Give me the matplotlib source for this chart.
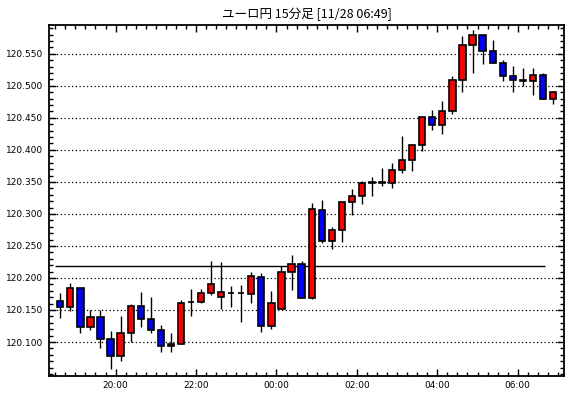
import numpy as np
import matplotlib
matplotlib.use("Agg")
from matplotlib import pyplot as plt
from matplotlib.ticker import MultipleLocator, FixedLocator

# EUR/JPY 15-minute candles, 18:30 .. 06:45
opens = [120.164, 120.154, 120.185, 120.123, 120.139, 120.104, 120.078, 120.114, 120.156, 120.136,
         120.119, 120.094, 120.097, 120.162, 120.163, 120.177, 120.170, 120.177, 120.176, 120.175,
         120.202, 120.125, 120.152, 120.209, 120.222, 120.169, 120.306, 120.258, 120.275, 120.319,
         120.328, 120.349, 120.349, 120.348, 120.369, 120.384, 120.408, 120.451, 120.439, 120.460,
         120.509, 120.563, 120.580, 120.555, 120.536, 120.516, 120.508, 120.507, 120.517, 120.480]
highs = [120.177, 120.192, 120.185, 120.150, 120.150, 120.117, 120.141, 120.160, 120.178, 120.171,
         120.126, 120.114, 120.166, 120.183, 120.183, 120.227, 120.225, 120.188, 120.189, 120.210,
         120.207, 120.180, 120.218, 120.236, 120.227, 120.317, 120.322, 120.280, 120.319, 120.339,
         120.352, 120.358, 120.372, 120.380, 120.422, 120.409, 120.452, 120.463, 120.477, 120.516,
         120.578, 120.587, 120.580, 120.571, 120.540, 120.531, 120.528, 120.528, 120.520, 120.491]
lows = [120.138, 120.149, 120.114, 120.118, 120.090, 120.058, 120.071, 120.100, 120.123, 120.114,
        120.085, 120.085, 120.097, 120.140, 120.161, 120.173, 120.152, 120.155, 120.132, 120.161,
        120.116, 120.120, 120.152, 120.182, 120.169, 120.167, 120.254, 120.245, 120.256, 120.298,
        120.315, 120.328, 120.344, 120.340, 120.364, 120.367, 120.398, 120.431, 120.425, 120.456,
        120.490, 120.520, 120.534, 120.536, 120.508, 120.491, 120.500, 120.485, 120.480, 120.472]
closes = [120.154, 120.185, 120.123, 120.139, 120.104, 120.078, 120.114, 120.156, 120.136, 120.119,
          120.094, 120.097, 120.161, 120.162, 120.177, 120.191, 120.178, 120.177, 120.176, 120.203,
          120.125, 120.161, 120.209, 120.222, 120.169, 120.308, 120.258, 120.275, 120.319, 120.328,
          120.348, 120.350, 120.350, 120.369, 120.384, 120.408, 120.452, 120.439, 120.460, 120.509,
          120.563, 120.580, 120.555, 120.536, 120.515, 120.509, 120.509, 120.517, 120.480, 120.491]
ref_level = 120.219
time_labels = ["20:00", "22:00", "00:00", "02:00", "04:00", "06:00"]
title = "ユーロ円 15分足 [11/28 06:49]"


def main():
    o = np.array(opens)
    h = np.array(highs)
    l = np.array(lows)
    c = np.array(closes)
    x = np.arange(len(o))
    up = c >= o
    colors = np.where(up, "#ff0000", "#0000ff")

    fig = plt.figure(figsize=(5.7, 3.98), dpi=100)
    ax = fig.add_axes([0.086, 0.0565, 0.9035, 0.8807])

    ax.vlines(x, l, h, color="black", linewidth=1.0, zorder=2)
    ax.bar(x, c - o, bottom=o, width=0.62, color=colors, edgecolor="black",
           linewidth=1.2, zorder=3)
    ax.hlines(ref_level, -0.55, 48.2, color="black", linewidth=1.0, zorder=1)

    ax.set_xlim(-1.12, 50.1)
    ax.set_ylim(120.0477, 120.595)

    ax.yaxis.set_major_locator(FixedLocator(np.arange(120.100, 120.5501, 0.05)))
    ax.yaxis.set_minor_locator(MultipleLocator(0.01))
    ax.yaxis.set_major_formatter(matplotlib.ticker.FormatStrFormatter("%.3f"))
    ax.set_xticks([5.5 + 8 * i for i in range(len(time_labels))])
    ax.set_xticklabels(time_labels)
    ax.xaxis.set_minor_locator(FixedLocator(np.arange(-0.5, 50, 1.0)))

    ax.grid(axis="y", which="major", color="black", linestyle=(0, (1, 2)), linewidth=0.9)
    ax.tick_params(which="both", direction="in", top=True, right=True, width=1,
                   labelsize=6.5, colors="black")
    ax.tick_params(which="major", length=5, pad=4)
    ax.tick_params(which="minor", length=3)
    for s in ax.spines.values():
        s.set_linewidth(1.3)

    fig.text(0.538, 0.963, title, ha="center", va="center", fontsize=9,
             family=["Noto Sans CJK JP", "DejaVu Sans"])
    fig.savefig("out.png", dpi=100)


if __name__ == "__main__":
    main()
